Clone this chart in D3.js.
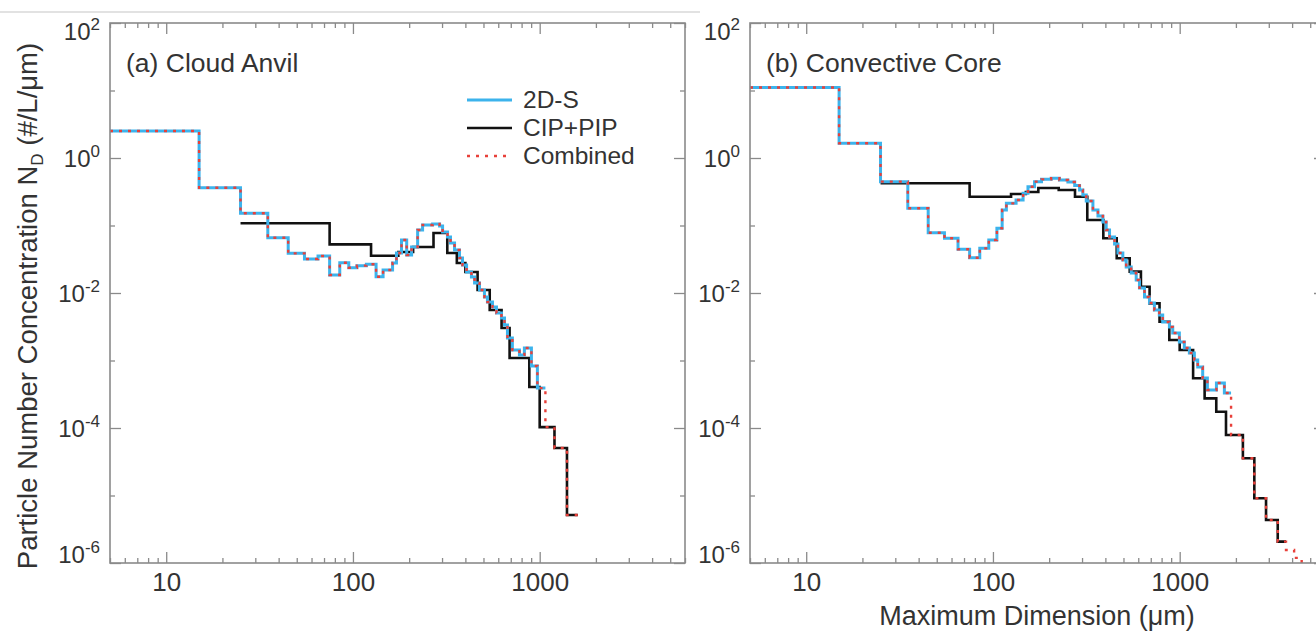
<!DOCTYPE html>
<html><head><meta charset="utf-8">
<script src="https://cdn.jsdelivr.net/npm/d3@7"></script>
<style>
body{margin:0;background:#fff}
text{font-family:"Liberation Sans",Arial,Helvetica,sans-serif;fill:#333}
</style>
</head><body>
<svg id="chart" width="1316" height="632"></svg>
<script>
// ---------- DATA (sizes in µm, concentrations in #/L/µm) ----------
// (a) Cloud Anvil
const anvil2DSEdges = [5,15,25,35,45,55,65,75,85,95,105,118,133,145,163,171,182,194,206,222,236,267,291,302,321,333,350,372,386,406,431,448,476,506,525,559,587,624,648,672,714,779,828,903,972,1073];
const anvil2DSValues = [2.51,0.363,0.152,0.066,0.0387,0.0319,0.0353,0.0185,0.0281,0.0237,0.0254,0.0266,0.0174,0.0219,0.0278,0.0392,0.061,0.0366,0.048,0.0857,0.1017,0.105,0.0984,0.080,0.0676,0.0551,0.0434,0.033,0.026,0.0205,0.0173,0.0141,0.0111,0.00873,0.00736,0.00621,0.00506,0.00426,0.00336,0.00215,0.00143,0.00121,0.00153,0.00083,0.00039];
const anvilCIPEdges = [25,75,125,175,210,270,320,360,400,465,540,625,690,880,1000,1200,1400,1600];
const anvilCIPValues = [0.108,0.0526,0.0357,0.0405,0.048,0.0774,0.0392,0.0278,0.0205,0.0111,0.0056,0.00303,0.00109,0.000405,0.000103,5.06e-5,5.14e-6];
const anvilCombinedEdges = anvil2DSEdges.concat([1200,1400,1600]);
const anvilCombinedValues = anvil2DSValues.concat([0.000103,5.06e-5,5.14e-6]);

// (b) Convective Core
const core2DSEdges = [5,15,25,35,45,55,65,75,85,95,105,112,118,133,145,154,167,182,205,227,252,274,291,303,316,343,365,388,404,421,448,467,496,517,550,585,609,648,689,732,778,811,881,918,996,1059,1127,1198,1249,1328,1407,1573,1735,1884];
const core2DSValues = [11.1,1.65,0.446,0.180,0.0782,0.0646,0.0444,0.0333,0.0459,0.061,0.091,0.170,0.213,0.239,0.300,0.376,0.446,0.483,0.500,0.472,0.441,0.392,0.336,0.283,0.231,0.170,0.138,0.113,0.0857,0.0676,0.0532,0.0392,0.0308,0.0243,0.0198,0.0156,0.0119,0.00873,0.00711,0.0056,0.00472,0.00372,0.00313,0.00255,0.00188,0.00153,0.00129,0.00102,0.000801,0.000551,0.000366,0.000464,0.00033];
const coreCIPEdges = [25,75,125,150,175,225,275,320,390,460,540,620,690,780,880,1000,1180,1360,1570,1770,2180,2510,2900,3350,3710];
const coreCIPValues = [0.422,0.267,0.293,0.313,0.360,0.336,0.267,0.1206,0.0646,0.0327,0.0207,0.0124,0.00703,0.00376,0.00201,0.00143,0.000545,0.000275,0.000174,7.87e-5,3.56e-5,9.1e-6,4.34e-6,2.07e-6];
const coreCombinedEdges = core2DSEdges.concat([2180,2510,2900,3350,3710,4100,4500,4900]);
const coreCombinedValues = core2DSValues.concat([7.87e-5,3.56e-5,9.1e-6,4.34e-6,2.07e-6,1.56e-6,1.19e-6,8.4e-7]);

const panelTitles = ["(a) Cloud Anvil", "(b) Convective Core"];
const seriesNames = ["2D-S", "CIP+PIP", "Combined"];
const xTickLabels = [10, 100, 1000];
const yTickLabels = [1e2, 1e0, 1e-2, 1e-4, 1e-6];
const yMinorTicks = [1e1, 1e-1, 1e-3, 1e-5];
const xDomain = [5, 6000];
const yDomain = [1e-6, 1e2];
const yTitle = "Particle Number Concentration N";
const xTitle = "Maximum Dimension (\u03bcm)";

// ---------- LAYOUT ----------
const svg = d3.select("#chart");
const plotTop = 23, plotBottom = 563;
const panels = [
  {x0:110, x1:685, title: panelTitles[0],
   s2ds:[anvil2DSEdges, anvil2DSValues], cip:[anvilCIPEdges, anvilCIPValues], comb:[anvilCombinedEdges, anvilCombinedValues], legend:true},
  {x0:750, x1:1325, title: panelTitles[1],
   s2ds:[core2DSEdges, core2DSValues], cip:[coreCIPEdges, coreCIPValues], comb:[coreCombinedEdges, coreCombinedValues], legend:false}
];
const colors = {s2ds:"#3cb3ec", cip:"#111111", comb:"#e8403a"};
const axisColor = "#8a8a8a";

svg.append("line").attr("x1",0).attr("x2",700).attr("y1",12).attr("y2",12)
  .attr("stroke","#e2e2e2").attr("stroke-width",2);

function stepPoints(edges, values){
  const pts = values.map((v,i)=>[edges[i], v]);
  pts.push([edges[edges.length-1], values[values.length-1]]);
  return pts;
}

const minorX = [];
[1,10,100,1000].forEach(d=>{ for(let k=2;k<=9;k++){ const v=d*k; if(v>=xDomain[0] && v<=xDomain[1]) minorX.push(v);} });

panels.forEach((p,pi)=>{
  const x = d3.scaleLog().domain(xDomain).range([p.x0, p.x1]);
  const y = d3.scaleLog().domain(yDomain).range([plotBottom, plotTop]);
  const g = svg.append("g");
  const clipId = "clip"+pi;
  svg.append("clipPath").attr("id",clipId).append("rect")
    .attr("x",p.x0).attr("y",plotTop).attr("width",p.x1-p.x0).attr("height",plotBottom-plotTop);

  const styleAxis = sel => { sel.select(".domain").remove(); sel.selectAll(".tick line").attr("stroke",axisColor).attr("stroke-width",1.3); };

  g.append("g").attr("transform",`translate(0,${plotBottom})`)
    .call(d3.axisBottom(x).tickValues(xTickLabels).tickSize(-11).tickPadding(10).tickFormat(d3.format("d")))
    .call(styleAxis)
    .call(s=>s.selectAll("text").attr("font-size",26).attr("fill","#333").attr("font-family",null));
  g.append("g").attr("transform",`translate(0,${plotBottom})`)
    .call(d3.axisBottom(x).tickValues(minorX).tickSize(-5).tickFormat(""))
    .call(styleAxis);
  g.append("g").attr("transform",`translate(0,${plotTop})`)
    .call(d3.axisTop(x).tickValues(xTickLabels).tickSize(-11).tickFormat(""))
    .call(styleAxis);
  g.append("g").attr("transform",`translate(0,${plotTop})`)
    .call(d3.axisTop(x).tickValues(minorX).tickSize(-5).tickFormat(""))
    .call(styleAxis);
  const la = g.append("g").attr("transform",`translate(${p.x0},0)`)
    .call(d3.axisLeft(y).tickValues(yTickLabels).tickSize(-11).tickPadding(10).tickFormat(""))
    .call(styleAxis);
  la.selectAll(".tick text").each(function(d){
    const t = d3.select(this);
    const e = Math.round(Math.log10(d));
    t.attr("font-size",24).attr("font-family",null).attr("fill","#333").attr("dy", null)
     .attr("y", e===2 ? 16 : (e===-6 ? -1 : 8));
    t.append("tspan").text("10");
    t.append("tspan").attr("dy",-10).attr("font-size",17).text(String(e));
  });
  g.append("g").attr("transform",`translate(${p.x0},0)`)
    .call(d3.axisLeft(y).tickValues(yMinorTicks).tickSize(-5).tickFormat(""))
    .call(styleAxis);
  g.append("g").attr("transform",`translate(${p.x1},0)`)
    .call(d3.axisRight(y).tickValues(yTickLabels).tickSize(-11).tickFormat(""))
    .call(styleAxis);
  g.append("g").attr("transform",`translate(${p.x1},0)`)
    .call(d3.axisRight(y).tickValues(yMinorTicks).tickSize(-5).tickFormat(""))
    .call(styleAxis);

  const line = d3.line().x(d=>x(d[0])).y(d=>y(d[1])).curve(d3.curveStepAfter);
  const sg = g.append("g").attr("clip-path",`url(#${clipId})`);
  sg.append("path").datum(stepPoints(...p.cip)).attr("d",line)
    .attr("fill","none").attr("stroke",colors.cip).attr("stroke-width",2.6);
  sg.append("path").datum(stepPoints(...p.s2ds)).attr("d",line)
    .attr("fill","none").attr("stroke",colors.s2ds).attr("stroke-width",3);
  sg.append("path").datum(stepPoints(...p.comb)).attr("d",line)
    .attr("fill","none").attr("stroke",colors.comb).attr("stroke-width",2.4)
    .attr("stroke-dasharray","3,6");

  g.append("rect").attr("x",p.x0).attr("y",plotTop).attr("width",p.x1-p.x0).attr("height",plotBottom-plotTop)
    .attr("fill","none").attr("stroke",axisColor).attr("stroke-width",1.6);

  g.append("text").attr("x",p.x0+16).attr("y",72).attr("font-size",26.5).text(p.title);

  if(p.legend){
    const rows = [
      {name:seriesNames[0], color:colors.s2ds, dash:null, w:3},
      {name:seriesNames[1], color:colors.cip, dash:null, w:2.6},
      {name:seriesNames[2], color:colors.comb, dash:"3,6", w:2.4}
    ];
    const ly = [100, 128, 156];
    rows.forEach((r,i)=>{
      g.append("line").attr("x1",467).attr("x2",512).attr("y1",ly[i]).attr("y2",ly[i])
        .attr("stroke",r.color).attr("stroke-width",r.w).attr("stroke-dasharray",r.dash);
      g.append("text").attr("x",523).attr("y",ly[i]+8).attr("font-size",24.5).text(r.name);
    });
  }
});

const yt = svg.append("text").attr("transform","translate(37,306) rotate(-90)")
  .attr("text-anchor","middle").attr("font-size",27.5);
yt.append("tspan").text(yTitle);
yt.append("tspan").attr("font-size",17).attr("dy",6).text("D");
yt.append("tspan").attr("dy",-6).text(" (#/L/\u03bcm)");

svg.append("text").attr("x",1037).attr("y",625).attr("text-anchor","middle")
  .attr("font-size",27).text(xTitle);
</script>
</body></html>
